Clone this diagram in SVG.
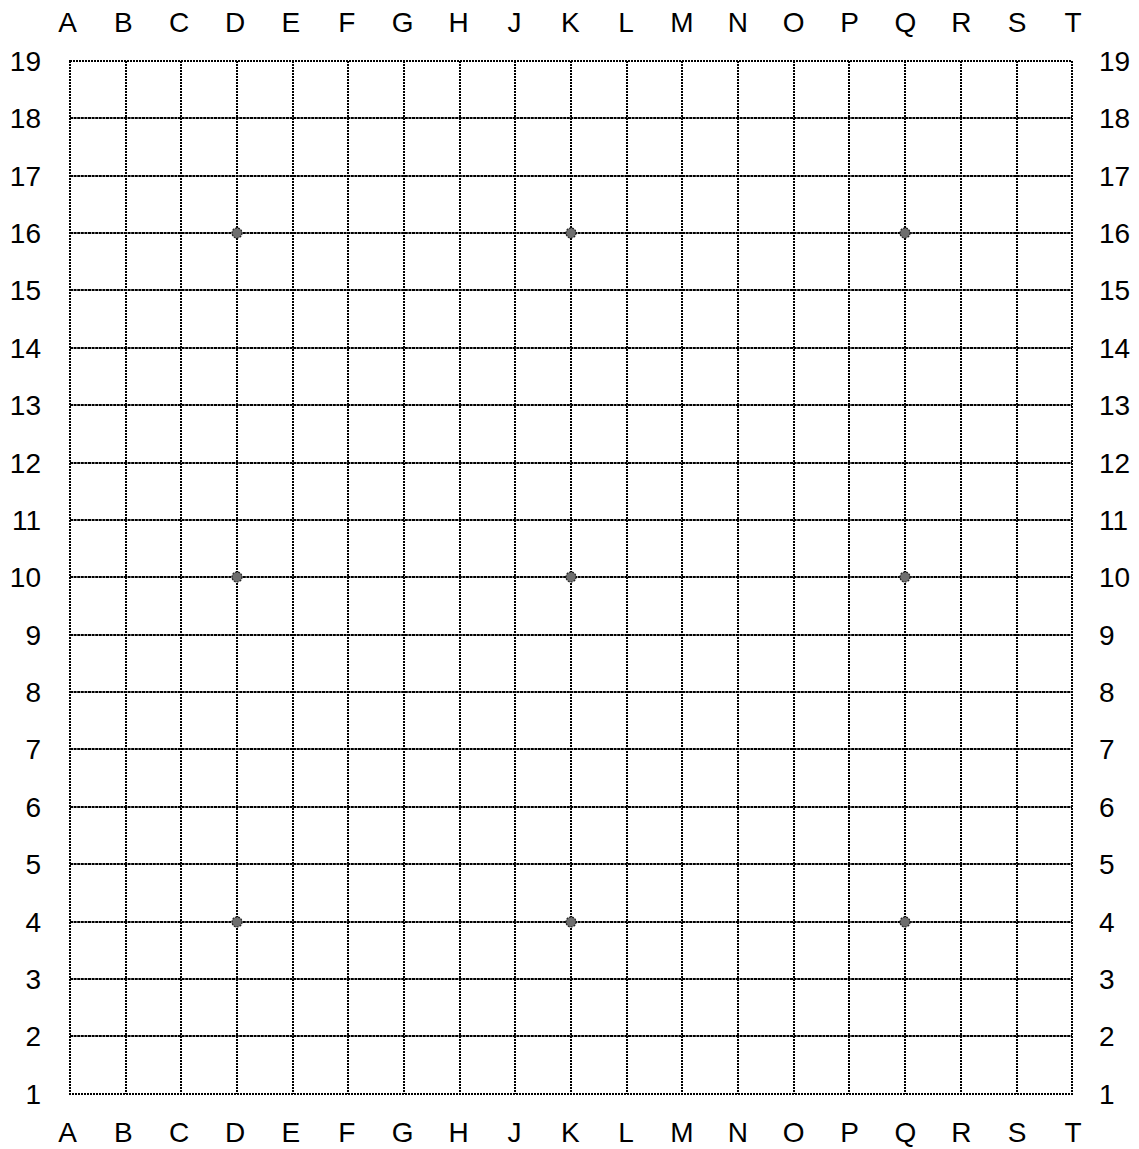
<svg xmlns="http://www.w3.org/2000/svg" width="1139" height="1149" viewBox="0 0 1139 1149">
<style>
text{font-family:"Liberation Sans",Arial,sans-serif;font-size:28px;fill:#000}
.col{text-anchor:middle}
.l{text-anchor:end}
.r{text-anchor:start}
.v{stroke:#000;stroke-width:2;stroke-dasharray:2 1;fill:none}
.h{stroke:#000;stroke-width:2;stroke-dasharray:3 0.6;fill:none}
.b{stroke:#000;stroke-width:2;stroke-dasharray:2 1;fill:none}
.star{fill:#6e6e6e;stroke:#222;stroke-width:1.2;stroke-dasharray:2 1}
</style>
<rect width="1139" height="1149" fill="#fff"/>
<g id="grid">
<g id="vlines" class="v">
<line x1="126" y1="61" x2="126" y2="1094"/>
<line x1="181" y1="61" x2="181" y2="1094"/>
<line x1="237" y1="61" x2="237" y2="1094"/>
<line x1="293" y1="61" x2="293" y2="1094"/>
<line x1="348" y1="61" x2="348" y2="1094"/>
<line x1="404" y1="61" x2="404" y2="1094"/>
<line x1="460" y1="61" x2="460" y2="1094"/>
<line x1="515" y1="61" x2="515" y2="1094"/>
<line x1="571" y1="61" x2="571" y2="1094"/>
<line x1="627" y1="61" x2="627" y2="1094"/>
<line x1="682" y1="61" x2="682" y2="1094"/>
<line x1="738" y1="61" x2="738" y2="1094"/>
<line x1="794" y1="61" x2="794" y2="1094"/>
<line x1="849" y1="61" x2="849" y2="1094"/>
<line x1="905" y1="61" x2="905" y2="1094"/>
<line x1="961" y1="61" x2="961" y2="1094"/>
<line x1="1017" y1="61" x2="1017" y2="1094"/>
</g>
<g id="hlines" class="h">
<line x1="70" y1="118" x2="1072" y2="118"/>
<line x1="70" y1="176" x2="1072" y2="176"/>
<line x1="70" y1="233" x2="1072" y2="233"/>
<line x1="70" y1="290" x2="1072" y2="290"/>
<line x1="70" y1="348" x2="1072" y2="348"/>
<line x1="70" y1="405" x2="1072" y2="405"/>
<line x1="70" y1="463" x2="1072" y2="463"/>
<line x1="70" y1="520" x2="1072" y2="520"/>
<line x1="70" y1="577" x2="1072" y2="577"/>
<line x1="70" y1="635" x2="1072" y2="635"/>
<line x1="70" y1="692" x2="1072" y2="692"/>
<line x1="70" y1="749" x2="1072" y2="749"/>
<line x1="70" y1="807" x2="1072" y2="807"/>
<line x1="70" y1="864" x2="1072" y2="864"/>
<line x1="70" y1="922" x2="1072" y2="922"/>
<line x1="70" y1="979" x2="1072" y2="979"/>
<line x1="70" y1="1036" x2="1072" y2="1036"/>
</g>
<rect id="border" class="b" x="70" y="61" width="1002" height="1033"/>
</g>
<g id="stars">
<circle class="star" cx="237" cy="233" r="5"/>
<circle class="star" cx="571" cy="233" r="5"/>
<circle class="star" cx="905" cy="233" r="5"/>
<circle class="star" cx="237" cy="577" r="5"/>
<circle class="star" cx="571" cy="577" r="5"/>
<circle class="star" cx="905" cy="577" r="5"/>
<circle class="star" cx="237" cy="922" r="5"/>
<circle class="star" cx="571" cy="922" r="5"/>
<circle class="star" cx="905" cy="922" r="5"/>
</g>
<g id="top-labels" class="col">
<text x="67.5" y="32">A</text>
<text x="123.36" y="32">B</text>
<text x="179.22" y="32">C</text>
<text x="235.08" y="32">D</text>
<text x="290.94" y="32">E</text>
<text x="346.8" y="32">F</text>
<text x="402.66" y="32">G</text>
<text x="458.52" y="32">H</text>
<text x="514.38" y="32">J</text>
<text x="570.24" y="32">K</text>
<text x="626.1" y="32">L</text>
<text x="681.96" y="32">M</text>
<text x="737.82" y="32">N</text>
<text x="793.68" y="32">O</text>
<text x="849.54" y="32">P</text>
<text x="905.4" y="32">Q</text>
<text x="961.26" y="32">R</text>
<text x="1017.12" y="32">S</text>
<text x="1072.98" y="32">T</text>
</g>
<g id="bottom-labels" class="col">
<text x="67.5" y="1142">A</text>
<text x="123.36" y="1142">B</text>
<text x="179.22" y="1142">C</text>
<text x="235.08" y="1142">D</text>
<text x="290.94" y="1142">E</text>
<text x="346.8" y="1142">F</text>
<text x="402.66" y="1142">G</text>
<text x="458.52" y="1142">H</text>
<text x="514.38" y="1142">J</text>
<text x="570.24" y="1142">K</text>
<text x="626.1" y="1142">L</text>
<text x="681.96" y="1142">M</text>
<text x="737.82" y="1142">N</text>
<text x="793.68" y="1142">O</text>
<text x="849.54" y="1142">P</text>
<text x="905.4" y="1142">Q</text>
<text x="961.26" y="1142">R</text>
<text x="1017.12" y="1142">S</text>
<text x="1072.98" y="1142">T</text>
</g>
<g id="left-labels" class="l">
<text x="41" y="71">19</text>
<text x="41" y="128">18</text>
<text x="41" y="186">17</text>
<text x="41" y="243">16</text>
<text x="41" y="300">15</text>
<text x="41" y="358">14</text>
<text x="41" y="415">13</text>
<text x="41" y="473">12</text>
<text x="41" y="530">11</text>
<text x="41" y="587">10</text>
<text x="41" y="645">9</text>
<text x="41" y="702">8</text>
<text x="41" y="759">7</text>
<text x="41" y="817">6</text>
<text x="41" y="874">5</text>
<text x="41" y="932">4</text>
<text x="41" y="989">3</text>
<text x="41" y="1046">2</text>
<text x="41" y="1104">1</text>
</g>
<g id="right-labels" class="r">
<text x="1099" y="71">19</text>
<text x="1099" y="128">18</text>
<text x="1099" y="186">17</text>
<text x="1099" y="243">16</text>
<text x="1099" y="300">15</text>
<text x="1099" y="358">14</text>
<text x="1099" y="415">13</text>
<text x="1099" y="473">12</text>
<text x="1099" y="530">11</text>
<text x="1099" y="587">10</text>
<text x="1099" y="645">9</text>
<text x="1099" y="702">8</text>
<text x="1099" y="759">7</text>
<text x="1099" y="817">6</text>
<text x="1099" y="874">5</text>
<text x="1099" y="932">4</text>
<text x="1099" y="989">3</text>
<text x="1099" y="1046">2</text>
<text x="1099" y="1104">1</text>
</g>
</svg>
